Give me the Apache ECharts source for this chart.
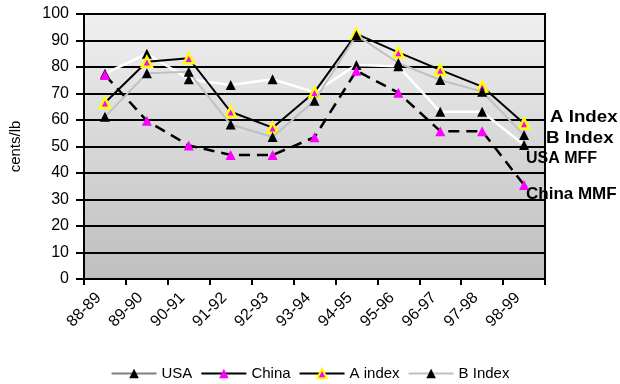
<!DOCTYPE html>
<html>
<head>
<meta charset="utf-8">
<script src="https://cdn.jsdelivr.net/npm/echarts@6/dist/echarts.min.js"></script>
<style>
  html, body { margin: 0; padding: 0; background: #ffffff; }
  #chart { width: 620px; height: 384px; }
</style>
</head>
<body>
<div id="chart"></div>
<script>
// Crop years
const categories = ['88-89', '89-90', '90-91', '91-92', '92-93', '93-94', '94-95', '95-96', '96-97', '97-98', '98-99'];

// Prices, cents/lb
const usaValues   = [77.5, 85.0, 75.4, 73.2, 75.4, 70.5, 80.8, 80.3, 63.1, 63.1, 50.6];
const chinaValues = [77.0, 59.7, 50.4, 46.8, 46.8, 53.5, 78.6, 70.3, 55.8, 55.8, 35.5];
const aIndexValues = [66.5, 82.0, 83.3, 63.1, 57.1, 70.5, 92.5, 85.5, 78.9, 72.6, 58.7];
const bIndexValues = [61.2, 77.6, 78.2, 58.3, 53.6, 67.3, 92.0, 81.5, 75.1, 70.7, 54.3];

// Y axis ticks
const yMin = 0, yMax = 100, yStep = 10;

const FONT = 'Liberation Sans, Arial, sans-serif';

const chart = echarts.init(document.getElementById('chart'), null, { renderer: 'canvas' });

const tri = {
  symbol: 'triangle',
  symbolSize: 10,
  symbolKeepAspect: true
};

chart.setOption({
  animation: false,
  backgroundColor: '#ffffff',
  textStyle: { fontFamily: FONT, color: '#000' },
  grid: {
    left: 77, right: 75, top: 14, bottom: 105,
    show: true,
    borderColor: '#000', borderWidth: 2,
    backgroundColor: {
      type: 'linear', x: 0, y: 0, x2: 0, y2: 1,
      colorStops: [
        { offset: 0, color: '#f0f0f0' },
        { offset: 1, color: '#bebebe' }
      ]
    }
  },
  legend: {
    left: 'center',
    top: 361,
    itemWidth: 45,
    itemHeight: 12,
    itemGap: 8,
    textStyle: { fontFamily: FONT, fontSize: 15, color: '#000' },
    data: [
      { name: 'USA', lineStyle: { color: '#808080', width: 2, type: 'solid' } },
      { name: 'China', lineStyle: { color: '#000', width: 2, type: 'solid' } },
      { name: 'A index', lineStyle: { color: '#000', width: 2, type: 'solid' } },
      { name: 'B Index', lineStyle: { color: '#c0c0c0', width: 2, type: 'solid' } }
    ]
  },
  xAxis: {
    type: 'category',
    data: categories,
    boundaryGap: true,
    axisLine: { show: true, lineStyle: { color: '#000', width: 2 } },
    axisTick: { show: true, length: 6, interval: 0, lineStyle: { color: '#000', width: 2 } },
    axisLabel: {
      interval: 0, rotate: 45, margin: 10,
      padding: [0, 9, 0, 0],
      fontFamily: FONT, fontSize: 16, color: '#000'
    },
    splitLine: { show: false }
  },
  yAxis: {
    type: 'value',
    min: yMin, max: yMax, interval: yStep,
    name: 'cents/lb',
    nameLocation: 'middle',
    nameRotate: 90,
    nameGap: 61,
    nameTextStyle: { fontFamily: FONT, fontSize: 15, color: '#000' },
    axisLine: { show: true, lineStyle: { color: '#000', width: 2 } },
    axisTick: { show: true, length: 8, lineStyle: { color: '#000', width: 2 } },
    axisLabel: { margin: 15, fontFamily: FONT, fontSize: 16, color: '#000' },
    splitLine: { show: true, lineStyle: { color: '#000', width: 2 } }
  },
  series: [
    Object.assign({
      name: 'USA', type: 'line', data: usaValues, z: 2,
      lineStyle: { color: '#ffffff', width: 2.5 },
      itemStyle: { color: '#000' }
    }, tri),
    Object.assign({
      name: 'China', type: 'line', data: chinaValues, z: 3,
      lineStyle: { color: '#000', width: 2.5, type: [11, 7] },
      itemStyle: { color: '#ff00ff' }
    }, tri),
    Object.assign({
      name: 'A index', type: 'line', data: aIndexValues, z: 4,
      lineStyle: { color: '#000', width: 2 },
      itemStyle: { color: '#ff00ff', borderColor: '#ffff00', borderWidth: 2.5 }
    }, tri),
    Object.assign({
      name: 'B Index', type: 'line', data: bIndexValues, z: 5,
      lineStyle: { color: '#c0c0c0', width: 2 },
      itemStyle: { color: '#000' }
    }, tri)
  ],
  graphic: [
    { type: 'text', left: 550, top: 109, scaleX: 1.1,
      style: { text: 'A Index', font: 'bold 17px ' + FONT, fill: '#000' } },
    { type: 'text', left: 546, top: 130, scaleX: 1.1,
      style: { text: 'B Index', font: 'bold 17px ' + FONT, fill: '#000' } },
    { type: 'text', left: 526, top: 151,
      style: { text: 'USA MFF', font: 'bold 16px ' + FONT, fill: '#000' } },
    { type: 'text', left: 526, top: 186,
      style: { text: 'China MMF', font: 'bold 17px ' + FONT, fill: '#000' } }
  ]
});
</script>
</body>
</html>
